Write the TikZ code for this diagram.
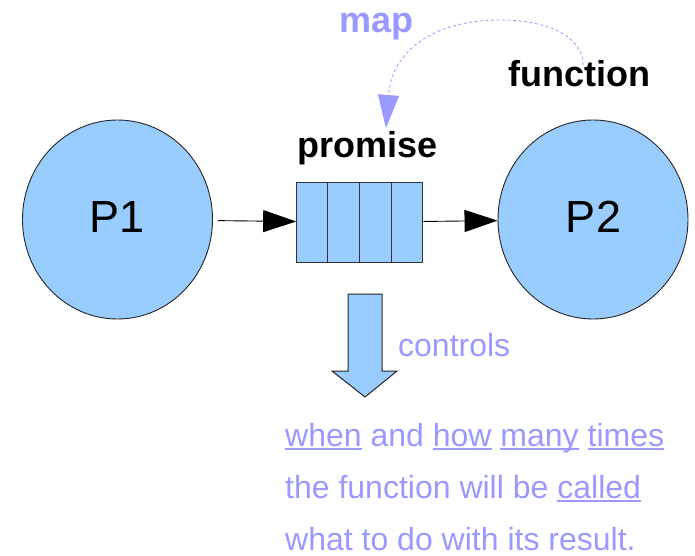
\documentclass[tikz,border=0pt]{standalone}
\usepackage{fontspec}
\setmainfont{Liberation Sans}
\usetikzlibrary{shapes.geometric,arrows.meta,calc}
\definecolor{cellblue}{HTML}{99CCFF}
\definecolor{lilac}{HTML}{9999FF}
\newcommand\ulw[1]{\setbox0=\hbox{#1}\rlap{\rule[-3.6pt]{\wd0}{1.3pt}}\box0\relax}
\tikzset{
  proc/.style={ellipse, draw=black!85, line width=0.9pt, fill=cellblue,
    minimum width=190pt, minimum height=199pt, inner sep=0pt},
  bigtxt/.style={font=\fontsize{45}{50}\selectfont, anchor=base, inner sep=0pt},
  boldtxt/.style={font=\fontsize{36}{40}\selectfont\bfseries, anchor=base, inner sep=0pt},
  bluetxt/.style={font=\fontsize{32}{36}\selectfont, text=lilac, anchor=base west, inner sep=0pt},
  flow/.style={draw=black, line width=0.9pt, -{Triangle[length=33pt,width=22pt]}},
  queuebox/.style={draw=black!80, line width=1.1pt, fill=cellblue,
    minimum width=126pt, minimum height=80pt, inner sep=0pt}
}
\begin{document}
\begin{tikzpicture}[x=1pt,y=-1pt]
\useasboundingbox (0,0) rectangle (695,556);
% processes
\node[proc] (p1) at (117.5,219.5) {};
\node[proc] (p2) at (593,219.5) {};
\node[bigtxt] (p1t) at (117.5,232.5) {P1};
\node[bigtxt] (p2t) at (593.5,232.5) {P2};
% queue
\node[queuebox] (q) at (359.7,222.2) {};
\foreach \f in {0.25,0.5,0.75}
  \draw[draw=black!80, line width=1.1pt]
    ($(q.north west)!\f!(q.north east)$) -- ($(q.south west)!\f!(q.south east)$);
\node[boldtxt] (prom) at (367.5,157.3) {promise};
% connectors
\draw[flow, shorten <=5pt] (p1) -- (q);
\draw[flow] (q) -- (p2);
% map / function
\node[boldtxt] (func) at (579.5,87) {function};
\node[boldtxt, text=lilac] (map) at (376.5,33) {map};
\coordinate (fs) at (583,65);
\coordinate (ft) at (386,128);
\draw[lilac, dashed, dash pattern=on 3pt off 2.5pt, line width=0.8pt,
  -{Triangle[length=33pt,width=21pt]}]
  (fs) .. controls (583,35) and (545,20) .. (500,20)
       .. controls (435,20) and (392,50) .. (ft);
% block arrow
\draw[draw=black!85, line width=1pt, fill=cellblue, line join=miter]
  (348,294) -- (382,294) -- (382,371) -- (397,371) -- (365,397)
  -- (332,371) -- (348,371) -- cycle;
\node[bluetxt] (ctl) at (398,356) {controls};
% explanation
\node[bluetxt] (l1) at (285,446) {\ulw{when} and \ulw{how} \ulw{many} \ulw{times}};
\node[bluetxt] (l2) at (285,498) {the function will be \ulw{called}};
\node[bluetxt] (l3) at (285,550) {what to do with its result.};
\end{tikzpicture}
\end{document}
